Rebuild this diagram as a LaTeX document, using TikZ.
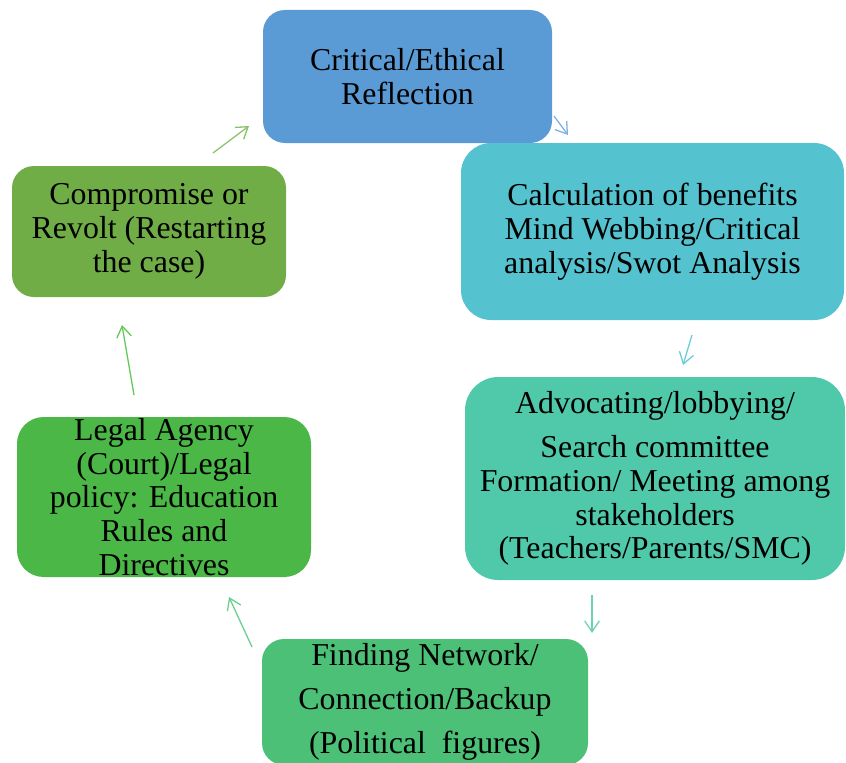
\documentclass[tikz,border=0pt]{standalone}
\usepackage{fontspec}
\setmainfont{Liberation Serif}
\usepackage{xcolor}
\usetikzlibrary{arrows.meta,positioning}
\definecolor{cRefF}{HTML}{5B9BD5}
\definecolor{cCalF}{HTML}{55C2CF}
\definecolor{cAdvF}{HTML}{4FC9A9}
\definecolor{cNetF}{HTML}{4CC077}
\definecolor{cLawF}{HTML}{4BB747}
\definecolor{cCmpF}{HTML}{70AD47}
\definecolor{cRefL}{HTML}{7FB0E0}
\definecolor{cCalL}{HTML}{6CCBD6}
\definecolor{cAdvL}{HTML}{6DD3B5}
\definecolor{cNetL}{HTML}{6ACF8E}
\definecolor{cLawL}{HTML}{62C85A}
\definecolor{cCmpL}{HTML}{86C165}

\begin{document}
\begin{tikzpicture}[x=1cm,y=1cm,
  stage/.style={rectangle,draw=none,align=center,inner sep=0pt,text=black,
    font=\fontsize{27.2}{28.9}\selectfont},
  cyc/.style={-{Straight Barb[length=3.3mm,width=4.4mm]},line width=1.1pt}]

  \path[use as bounding box,clip] (0,0) rectangle (25.38,-22.86);

  \node[stage,fill=cRefF,rounded corners=0.66cm,minimum width=8.67cm,minimum height=3.99cm]
    (refl) at (12.225,-2.295) {Critical/Ethical\\Reflection};
  \node[stage,fill=cCalF,rounded corners=0.9cm,minimum width=11.49cm,minimum height=5.31cm]
    (calc) at (19.575,-6.945) {Calculation of benefits\\Mind Webbing/Critical\\analysis/Swot Analysis};
  \node[stage,fill=cAdvF,rounded corners=1.0cm,minimum width=11.4cm,minimum height=6.09cm]
    (advo) at (19.65,-14.355) {Advocating/lobbying/\\[8.6pt]Search committee\\Formation/ Meeting among\\stakeholders\\(Teachers/Parents/SMC)};
  \node[stage,fill=cNetF,rounded corners=0.66cm,minimum width=9.78cm,minimum height=3.78cm]
    (netw) at (12.75,-21.06) {Finding Network/\\[8.6pt]Connection/Backup\\[8.6pt](Political\ \ figures)};
  \node[stage,fill=cLawF,rounded corners=0.8cm,minimum width=8.82cm,minimum height=4.8cm]
    (legal) at (4.92,-14.91) {Legal Agency\\(Court)/Legal\\policy: Education\\Rules and\\Directives};
  \node[stage,fill=cCmpF,rounded corners=0.66cm,minimum width=8.22cm,minimum height=3.93cm]
    (compr) at (4.47,-6.945) {Compromise or\\Revolt (Restarting\\the case)};

  % arrow ends between the stages
  \coordinate (c2rA) at (6.39,-4.59);   \coordinate (c2rB) at (7.47,-3.78);
  \coordinate (r2cA) at (16.62,-3.48);  \coordinate (r2cB) at (17.04,-4.05);
  \coordinate (c2aA) at (20.76,-10.05); \coordinate (c2aB) at (20.49,-10.95);
  \coordinate (a2nA) at (17.76,-17.85); \coordinate (a2nB) at (17.76,-18.99);
  \coordinate (n2lA) at (7.56,-19.41);  \coordinate (n2lB) at (6.87,-17.91);
  \coordinate (l2cA) at (4.02,-11.85);  \coordinate (l2cB) at (3.66,-9.75);

  \draw[cyc,draw=cCmpL] (c2rA) -- (c2rB);
  \draw[cyc,draw=cRefL] (r2cA) -- (r2cB);
  \draw[cyc,draw=cCalL] (c2aA) -- (c2aB);
  \draw[cyc,draw=cAdvL] (a2nA) -- (a2nB);
  \draw[cyc,draw=cNetL] (n2lA) -- (n2lB);
  \draw[cyc,draw=cLawL] (l2cA) -- (l2cB);
\end{tikzpicture}
\end{document}
